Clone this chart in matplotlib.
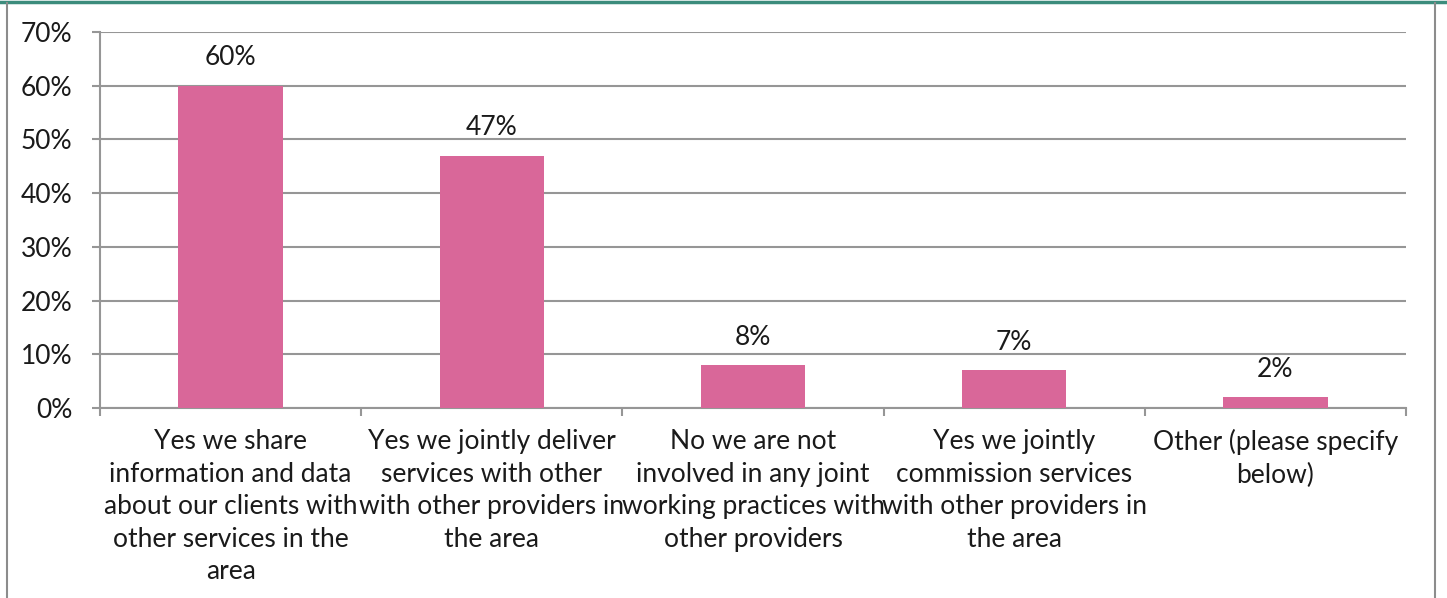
import matplotlib.pyplot as plt
from matplotlib.lines import Line2D

categories = [
    "Yes we share\ninformation and data\nabout our clients with\nother services in the\narea",
    "Yes we jointly deliver\nservices with other\nwith other providers in\nthe area",
    "No we are not\ninvolved in any joint\nworking practices with\nother providers",
    "Yes we jointly\ncommission services\nwith other providers in\nthe area",
    "Other (please specify\nbelow)",
]
values = [60, 47, 8, 7, 2]
y_ticks = [0, 10, 20, 30, 40, 50, 60, 70]

plt.rcParams['font.family'] = ['Lato', 'DejaVu Sans']
FS = 19

W, H = 1447, 598
fig = plt.figure(figsize=(W / 100, H / 100), dpi=100)

# outer frame: teal top rule, grey sides
fig.add_artist(Line2D([0, 1], [1 - 1.5 / H, 1 - 1.5 / H], color="#3c8c7c", lw=2.5, transform=fig.transFigure))
fig.add_artist(Line2D([6.5 / W, 6.5 / W], [0, 1 - 3 / H], color="#8c8c8c", lw=1.5, transform=fig.transFigure))
fig.add_artist(Line2D([1435 / W, 1435 / W], [0, 1 - 3 / H], color="#8c8c8c", lw=1.5, transform=fig.transFigure))

ax = fig.add_axes([100 / W, 1 - 408 / H, (1406 - 100) / W, (408 - 32) / H])

x = list(range(len(values)))
ax.bar(x, values, width=0.4, color="#d96799", zorder=3)
for xi, v in zip(x, values):
    ax.text(xi, v + 5.2, f"{v}%", ha="center", va="center", fontsize=FS, color="#1a1a1a")

ax.set_xlim(-0.5, len(values) - 0.5)
ax.set_ylim(0, 70)
ax.set_yticks(y_ticks)
ax.set_yticklabels([f"{t}%" for t in y_ticks], fontsize=FS, color="#1a1a1a")
ax.yaxis.grid(True, color="#969696", lw=1.5, zorder=0)

# category boundaries carry the x ticks, labels sit at the centres
ax.set_xticks([i - 0.5 for i in range(len(values) + 1)])
ax.set_xticklabels([])
ax.tick_params(axis="x", direction="out", length=6, width=1.5, color="#969696")
ax.tick_params(axis="y", direction="out", length=6, width=1.5, color="#969696", pad=14)
for xi, lab in zip(x, categories):
    ax.text(xi, -3.9, lab, ha="center", va="top", fontsize=FS, color="#1a1a1a",
            linespacing=1.38, transform=ax.transData)

for s in ["top", "right"]:
    ax.spines[s].set_visible(False)
for s in ["left", "bottom"]:
    ax.spines[s].set_color("#969696")
    ax.spines[s].set_linewidth(1.5)

fig.savefig("out.png", dpi=100)
